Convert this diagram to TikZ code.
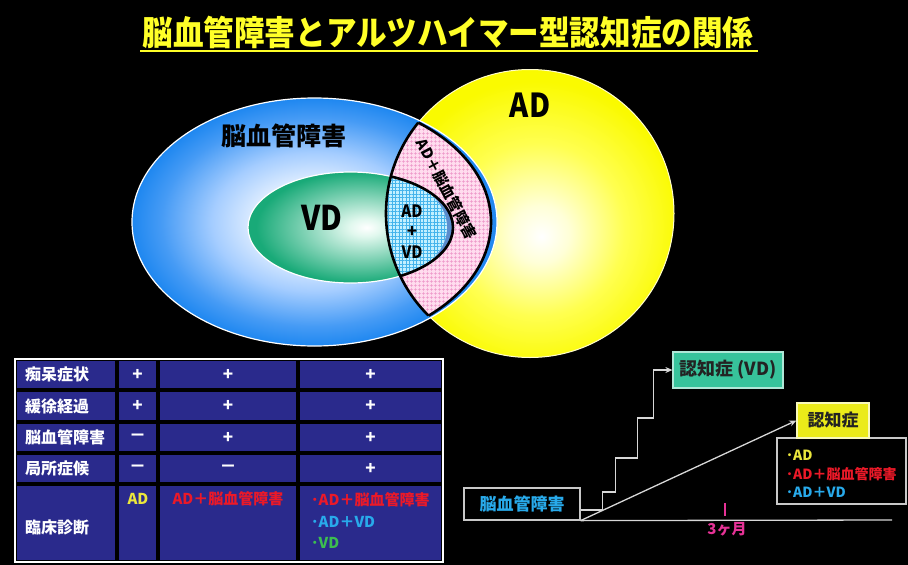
\documentclass[tikz,border=0pt]{standalone}
\usepackage{fontspec}
\setmainfont{Noto Sans CJK JP}
\usetikzlibrary{calc,arrows.meta,patterns.meta}

\definecolor{cellblue}{RGB}{42,42,140}
\definecolor{ttlyellow}{RGB}{255,255,40}
\definecolor{adyellow}{RGB}{235,230,60}
\definecolor{redtxt}{RGB}{235,25,40}
\definecolor{cyantxt}{RGB}{40,170,235}
\definecolor{greentxt}{RGB}{60,190,80}
\definecolor{vdgreen}{RGB}{55,195,155}
\definecolor{demyellow}{RGB}{235,235,25}
\definecolor{boxgray}{RGB}{200,200,200}
\definecolor{linegray}{RGB}{215,215,215}
\definecolor{magtxt}{RGB}{230,50,150}
\definecolor{pinkbase}{RGB}{255,220,238}
\definecolor{pinkline}{RGB}{238,150,200}
\definecolor{cyanbase}{RGB}{195,240,255}
\definecolor{cyanline}{RGB}{70,180,235}
\definecolor{crescentblue}{RGB}{90,140,205}
\definecolor{blueA}{RGB}{165,205,255}
\definecolor{blueB}{RGB}{70,155,245}
\definecolor{blueC}{RGB}{30,135,240}
\definecolor{greenA}{RGB}{225,248,238}
\definecolor{greenB}{RGB}{25,170,120}
\definecolor{yelA}{RGB}{255,255,215}
\definecolor{yelB}{RGB}{255,255,80}
\definecolor{yelC}{RGB}{250,250,0}
\definecolor{darktxt}{RGB}{35,35,35}

\pgfdeclareradialshading{blueshade}{\pgfpoint{0bp}{0bp}}{color(0bp)=(white); color(5bp)=(white); color(14bp)=(blueA); color(21bp)=(blueB); color(25bp)=(blueC); color(50bp)=(blueC)}
\pgfdeclareradialshading{greenshade}{\pgfpoint{4bp}{0bp}}{color(0bp)=(white); color(4bp)=(greenA); color(25bp)=(greenB); color(50bp)=(greenB)}
\pgfdeclareradialshading{yelshade}{\pgfpoint{2bp}{-4bp}}{color(0bp)=(white); color(5bp)=(yelA); color(15bp)=(yelB); color(25bp)=(yelC); color(50bp)=(yelC)}

\newcommand\fsz[1]{\fontsize{#1}{#1}\selectfont\bfseries}

\begin{document}
\begin{tikzpicture}[x=1pt,y=-1pt,
  vtxt/.style={text=black, inner sep=0pt},
  outline/.style={draw=black, line width=2.6pt},
  ttxt/.style={text=white, inner sep=0pt, font=\fsz{16}, anchor=west},
  pm/.style={text=white, inner sep=0pt, font=\fsz{17}},
  ctxt/.style={inner sep=0pt, font=\fsz{15}},
  boxnode/.style={draw=boxgray, line width=1.2pt, inner sep=0pt},
  conn/.style={draw=linegray, line width=1.3pt},
  arr/.style={conn, -{Stealth[length=7pt,width=6pt]}},
]
\useasboundingbox (0,0) rectangle (908,565);
\fill[black] (0,0) rectangle (908,565);

% ---------- title ----------
\node[text=ttlyellow, inner sep=0pt, font=\fsz{34}, xscale=0.9, anchor=base] (title) at (448,45) {脳血管障害とアルツハイマー型認知症の関係};
\draw[ttlyellow, line width=1.8pt] ([xshift=-2pt,yshift=-6pt]title.base west) -- ([xshift=4pt,yshift=-6pt]title.base east);

% ---------- Venn ----------
\shade[shading=yelshade] (530,213.5) circle [radius=144];
\draw[white!80!yellow, line width=1pt] (530,213.5) circle [radius=144];
\shade[shading=blueshade] (314.5,222) ellipse [x radius=182.5, y radius=124];
\draw[white, line width=1.2pt] (314.5,222) ellipse [x radius=182.5, y radius=124];
\shade[shading=greenshade] (350.5,227.5) ellipse [x radius=102.5, y radius=55.5];
\draw[white, line width=1.2pt] (350.5,227.5) ellipse [x radius=102.5, y radius=55.5];

\begin{scope}
  \clip (530,213.5) circle [radius=144];
  \fill[pinkbase] (310,222) ellipse [x radius=181, y radius=124];
  \fill[pattern={Hatch[angle=0,distance=4pt,line width=0.7pt]}, pattern color=pinkline] (310,222) ellipse [x radius=181, y radius=124];
  \draw[outline] (310,222) ellipse [x radius=181, y radius=124];
  \begin{scope}
    \clip (350.5,227.5) ellipse [x radius=102.5, y radius=55.5];
    \fill[crescentblue] (350.5,227.5) ellipse [x radius=102.5, y radius=55.5];
    \fill[cyanbase] (343,227.5) ellipse [x radius=104, y radius=62];
    \fill[pattern={Hatch[angle=0,distance=3.5pt,line width=0.6pt]}, pattern color=cyanline] (343,227.5) ellipse [x radius=104, y radius=62];
  \end{scope}
  \draw[outline] (350.5,227.5) ellipse [x radius=102.5, y radius=55.5];
\end{scope}
\begin{scope}
  \clip (310,222) ellipse [x radius=181, y radius=124];
  \draw[outline] (530,213.5) circle [radius=144];
\end{scope}

\node[vtxt, font=\fsz{25}] (nbtxt) at (284,136) {脳血管障害};
\node[vtxt, font=\fsz{34}, xscale=0.88] (vdtxt) at (322,218) {VD};
\node[vtxt, font=\fsz{33}, xscale=0.88] (adtxt) at (530,105) {AD};
\node[vtxt, font=\fsz{17}, xscale=0.9] (c1) at (412,211) {AD};
\node[vtxt, font=\fsz{17}] (c2) at (412,232) {+};
\node[vtxt, font=\fsz{17}, xscale=0.9] (c3) at (412,252) {VD};

\node[vtxt, font=\fsz{15}, rotate=-62] (ptxt) at (447,189) {AD＋脳血管障害};

% ---------- table ----------
\fill[black] (15,359) rectangle (443,562);
\foreach \xa/\xb in {15/117,117/158,158/298,298/443}
  \foreach \ya/\yb in {359/390,390/422,422/453,453/484,484/562}
    \fill[cellblue] (\xa+1.8,\ya+1.8) rectangle (\xb-1.8,\yb-1.8);
\draw[white, line width=1.4pt] (15,359) rectangle (443,562);

\node[ttxt] (r1) at (25,374.5) {痴呆症状};
\node[ttxt] (r2) at (25,406) {緩徐経過};
\node[ttxt] (r3) at (25,437.5) {脳血管障害};
\node[ttxt] (r4) at (25,468.5) {局所症候};
\node[ttxt] (r5) at (25,527) {臨床診断};

\node[pm] (a12) at (137.5,374.5) {+};
\node[pm] (a13) at (228,374.5) {+};
\node[pm] (a14) at (370.5,374.5) {+};
\node[pm] (a22) at (137.5,406) {+};
\node[pm] (a23) at (228,406) {+};
\node[pm] (a24) at (370.5,406) {+};
\node[pm] (a32) at (137.5,437.5) {－};
\node[pm] (a33) at (228,437.5) {+};
\node[pm] (a34) at (370.5,437.5) {+};
\node[pm] (a42) at (137.5,468.5) {－};
\node[pm] (a43) at (228,468.5) {－};
\node[pm] (a44) at (370.5,468.5) {+};

\node[ctxt, text=adyellow] (a52) at (138,499) {AD};
\node[ctxt, text=redtxt] (a53) at (228,499) {AD＋脳血管障害};
\node[ctxt, text=redtxt, anchor=west] (a54a) at (311,500) {･AD＋脳血管障害};
\node[ctxt, text=cyantxt, anchor=west] (a54b) at (311,522) {･AD＋VD};
\node[ctxt, text=greentxt, anchor=west] (a54c) at (311,543) {･VD};

% ---------- right diagram ----------
\node[boxnode, fill=black, minimum width=129pt, minimum height=66pt] (clist) at (841.5,471) {};
\node[boxnode, draw=white!70!demyellow, fill=demyellow, text=darktxt, minimum width=72pt, minimum height=35pt, font=\fsz{17}] (cdem) at (833,420.5) {認知症};
\node[boxnode, draw=white!60!vdgreen, fill=vdgreen, text=darktxt, minimum width=110pt, minimum height=36pt, font=\fsz{18}] (cvd) at (728,370) {認知症 (VD)};
\node[boxnode, fill=black, text=cyantxt, minimum width=116pt, minimum height=32pt, font=\fsz{17}] (cvb) at (522,504) {脳血管障害};

\node[ctxt, font=\fsz{14}, text=adyellow, anchor=west] (l1) at (786,455) {･AD};
\node[ctxt, font=\fsz{14}, text=redtxt, anchor=west] (l2) at (786,474) {･AD＋脳血管障害};
\node[ctxt, font=\fsz{14}, text=cyantxt, anchor=west] (l3) at (786,492) {･AD＋VD};

\coordinate (axend) at (892,520);
\draw[conn] (cvb.south east) -- (axend);
\draw[arr] ($(cvb.east)+(0,6)$) -- ++(22,0) -- ++(0,-18) -- ++(13,0) -- ++(0,-34) -- ++(22,0) -- ++(0,-40) -- ++(16,0) |- (cvd.west);
\draw[arr] (cvb.south east) -- (cdem.west);

\coordinate (tick) at (725,503);
\draw[magtxt, line width=1.6pt] (tick) -- ++(0,13);
\node[ctxt, text=magtxt] (mon) at (727,529) {3ヶ月};
\end{tikzpicture}
\end{document}
